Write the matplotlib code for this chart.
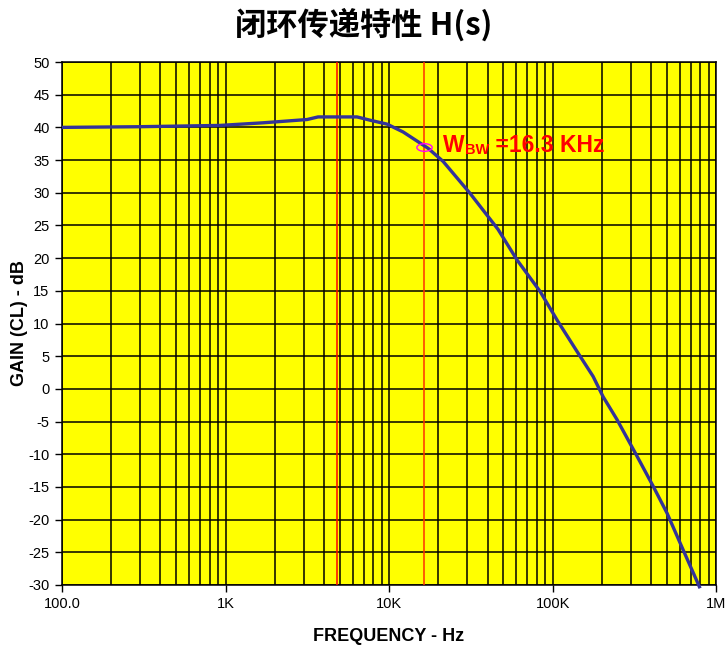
import matplotlib
matplotlib.use("Agg")
import matplotlib.pyplot as plt
from matplotlib.path import Path
from matplotlib.transforms import Affine2D

# Closed-loop gain H(s)
freq_hz = [100, 292, 925, 1695, 3150, 3680, 6370, 7650, 9720, 12190, 15490,
           17340, 21400, 31300, 46400, 60700, 83900, 106700,
           141300, 177000, 203700, 247800, 328500, 412400, 501000, 628000,
           798000]
gain_db = [40.0, 40.1, 40.3, 40.7, 41.2, 41.6, 41.6, 41.1, 40.5, 39.3, 37.6,
           36.8, 34.8, 29.9, 24.4, 19.7, 14.9, 10.5,
           5.7, 1.9, -1.2, -4.7, -10.3, -14.9, -19.0, -24.6, -30.5]

f_peak = 4.8e3
f_bw = 16.3e3
gain_bw = 37.0

x_ticks = [1e2, 1e3, 1e4, 1e5, 1e6]
x_tick_labels = ["100.0", "1K", "10K", "100K", "1M"]
y_ticks = list(range(-30, 51, 5))

plt.rcParams["font.family"] = ["Liberation Sans", "DejaVu Sans"]
plt.rcParams["axes.unicode_minus"] = False

fig = plt.figure(figsize=(7.27, 6.5), dpi=100)
ax = fig.add_axes([0.0853, 0.1, 0.8997, 0.8046])
ax.set_facecolor("#FFFF00")

ax.set_xscale("log")
ax.set_xlim(1e2, 1e6)
ax.set_ylim(-30, 50)
ax.set_xticks(x_ticks, x_tick_labels)
ax.set_yticks(y_ticks)

ax.grid(True, which="both", axis="x", color="black", linewidth=1.1)
ax.grid(True, which="major", axis="y", color="black", linewidth=1.1)
ax.set_axisbelow(True)
ax.tick_params(which="major", direction="out", length=5, width=1,
               color="black", labelsize=10.5, pad=4)
ax.tick_params(which="minor", length=0)
for s in ax.spines.values():
    s.set_color("black")
    s.set_linewidth(1.1)

ax.axvline(f_peak, color="#FF0000", linewidth=1.1, zorder=3)
ax.axvline(f_bw, color="#FF3000", linewidth=1.1, zorder=3)

ax.plot(freq_hz, gain_db, color="#333399", linewidth=2.4, zorder=4,
        clip_on=False, solid_capstyle="butt")

ellipse = Path.unit_circle().transformed(Affine2D().scale(1.0, 0.5))
ax.plot([f_bw], [gain_bw], linestyle="none", marker=ellipse, markersize=11,
        markerfacecolor="none", markeredgecolor="#FF00FF",
        markeredgewidth=1.0, zorder=5)

t_w = ax.text(2.14e4, 36.3, "W", color="#FF0000", fontsize=16.5,
              fontweight="bold", va="baseline", ha="left", zorder=6)
t_sub = ax.annotate("BW", xy=(1, 0), xycoords=t_w, color="#FF0000",
                    fontsize=10.5, fontweight="bold", va="bottom", ha="left",
                    zorder=6)
ax.annotate(" =16.3 KHz", xy=(1, 0), xycoords=t_sub, color="#FF0000",
            fontsize=16.5, fontweight="bold", va="bottom", ha="left", zorder=6)

ax.set_xlabel("FREQUENCY - Hz", fontsize=13, fontweight="bold", labelpad=12)
ax.set_ylabel("GAIN (CL) - dB", fontsize=13, fontweight="bold", labelpad=0)

fig.text(0.5, 0.962, "闭环传递特性 H(s)", ha="center", va="center",
         fontsize=22.5, fontweight="bold",
         family=["Noto Sans CJK SC", "Liberation Sans", "DejaVu Sans"])

fig.savefig("out.png", dpi=100, facecolor="white")
